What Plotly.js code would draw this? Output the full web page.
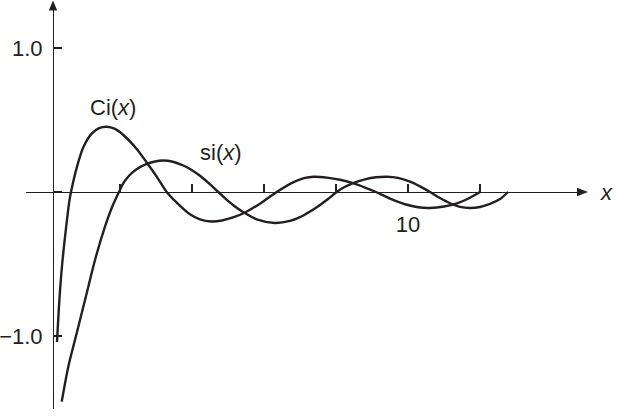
<!DOCTYPE html>
<html>
<head>
<meta charset="utf-8">
<script src="https://cdn.plot.ly/plotly-3.0.1.min.js"></script>
<style>
  html, body { margin: 0; padding: 0; background: #ffffff; }
  #chart { width: 618px; height: 417px; }
</style>
</head>
<body>
<div id="chart"></div>
<script>
// Ci(x)
const ciX = [0.25, 0.319, 0.394, 0.492, 0.589, 0.639, 0.797, 0.981, 1.214, 1.42, 1.631, 1.861, 2.092, 2.464, 2.722, 3.019, 3.297, 3.575, 3.944, 4.222, 4.528, 4.833, 5.139, 5.472, 5.889, 6.353, 6.806, 7.111, 7.389, 7.75, 8.111, 8.472, 8.806, 9.111, 9.5, 9.917, 10.278, 10.611, 11.0, 11.361, 11.667, 12.0];
const ciY = [-1.042, -0.74, -0.5, -0.27, -0.07, 0.0, 0.168, 0.31, 0.405, 0.443, 0.453, 0.438, 0.396, 0.299, 0.212, 0.107, 0.0, -0.074, -0.155, -0.190, -0.205, -0.198, -0.177, -0.142, -0.081, 0.0, 0.067, 0.096, 0.106, 0.100, 0.085, 0.061, 0.031, 0.0, -0.046, -0.085, -0.106, -0.111, -0.101, -0.079, -0.047, 0.0];

// si(x)
const siX = [0.381, 0.564, 0.797, 1.075, 1.306, 1.583, 1.778, 1.972, 2.111, 2.278, 2.472, 2.694, 2.944, 3.194, 3.472, 3.758, 3.944, 4.222, 4.472, 4.731, 4.944, 5.147, 5.425, 5.797, 6.306, 6.722, 7.0, 7.278, 7.556, 7.778, 8.019, 8.25, 8.472, 8.806, 9.111, 9.417, 9.722, 10.056, 10.333, 10.611, 10.889, 11.167, 11.444, 11.722, 12.0, 12.278, 12.556, 12.778];
const siY = [-1.456, -1.213, -0.981, -0.703, -0.472, -0.241, -0.106, 0.0, 0.068, 0.12, 0.16, 0.19, 0.21, 0.219, 0.210, 0.184, 0.160, 0.113, 0.060, 0.0, -0.050, -0.092, -0.140, -0.190, -0.215, -0.201, -0.175, -0.136, -0.090, -0.049, 0.0, 0.036, 0.062, 0.088, 0.102, 0.106, 0.098, 0.072, 0.039, 0.0, -0.042, -0.078, -0.103, -0.111, -0.104, -0.083, -0.049, 0.0];

// tick labels
const xTickVals = [2, 4, 6, 8, 10, 12];
const xTickText = ['', '', '', '', '10', ''];
const yTickVals = [-1, 0, 1];
const yTickText = ['\u22121.0', '', '1.0'];

// curve labels
const curveNames = ['Ci(<i>x</i>)', 'si(<i>x</i>)'];
const axisLabel = '<i>x</i>';

const INK = '#231f20';
const FONT = 'Liberation Sans, Arial, Helvetica, sans-serif';

const lineStyle = { color: INK, width: 2.4, shape: 'spline', smoothing: 0.8 };

const traces = [
  { x: ciX, y: ciY, type: 'scatter', mode: 'lines', line: lineStyle, hoverinfo: 'skip', showlegend: false, cliponaxis: false },
  { x: siX, y: siY, type: 'scatter', mode: 'lines', line: lineStyle, hoverinfo: 'skip', showlegend: false, cliponaxis: false }
];

const W = 618, H = 417;
const xAxisY = (H - 192) / H;   // paper position of y = 0
const yAxisX = 53 / W;          // paper position of the y axis

const layout = {
  width: W, height: H,
  margin: { l: 0, r: 0, t: 0, b: 0, pad: 0 },
  paper_bgcolor: '#ffffff',
  plot_bgcolor: 'rgba(0,0,0,0)',
  font: { family: FONT, size: 22, color: INK },
  showlegend: false,
  xaxis: {
    domain: [26 / W, 578 / W],
    range: [-0.6111, 14.7222],
    anchor: 'free', position: xAxisY,
    showline: true, linecolor: INK, linewidth: 1.3,
    ticks: 'inside', ticklen: 8, tickwidth: 1.3, tickcolor: INK,
    tickmode: 'array', tickvals: xTickVals, ticktext: xTickText,
    tickfont: { family: FONT, size: 22, color: INK },
    ticklabelstandoff: 12,
    showgrid: false, zeroline: false, fixedrange: true
  },
  yaxis: {
    domain: [8 / H, 409 / H],
    range: [-1.50694, 1.27778],
    anchor: 'free', position: yAxisX,
    showline: true, linecolor: INK, linewidth: 1.3,
    ticks: 'inside', ticklen: 8, tickwidth: 1.3, tickcolor: INK,
    tickmode: 'array', tickvals: yTickVals, ticktext: yTickText,
    tickfont: { family: FONT, size: 22, color: INK },
    ticklabelstandoff: 6,
    showgrid: false, zeroline: false, fixedrange: true
  },
  shapes: [
    // x-axis arrowhead
    { type: 'path', xref: 'paper', yref: 'paper',
      path: `M ${577 / W} ${xAxisY - 4.3 / H} L ${588 / W} ${xAxisY} L ${577 / W} ${xAxisY + 4.3 / H} Z`,
      fillcolor: INK, line: { width: 0 } },
    // y-axis arrowhead
    { type: 'path', xref: 'paper', yref: 'paper',
      path: `M ${(53 - 4.2) / W} ${(H - 10.5) / H} L ${53 / W} ${(H - 0.5) / H} L ${(53 + 4.2) / W} ${(H - 10.5) / H} Z`,
      fillcolor: INK, line: { width: 0 } }
  ],
  annotations: [
    { text: curveNames[0], x: 1.806, y: 0.59, xref: 'x', yref: 'y', showarrow: false,
      xanchor: 'center', yanchor: 'middle', font: { family: FONT, size: 22, color: INK } },
    { text: curveNames[1], x: 4.806, y: 0.271, xref: 'x', yref: 'y', showarrow: false,
      xanchor: 'center', yanchor: 'middle', font: { family: FONT, size: 22, color: INK } },
    { text: axisLabel, x: 606 / W, y: xAxisY, xref: 'paper', yref: 'paper', showarrow: false,
      xanchor: 'center', yanchor: 'middle', font: { family: FONT, size: 22, color: INK } }
  ]
};

Plotly.newPlot('chart', traces, layout, { staticPlot: true, displayModeBar: false });
</script>
</body>
</html>
